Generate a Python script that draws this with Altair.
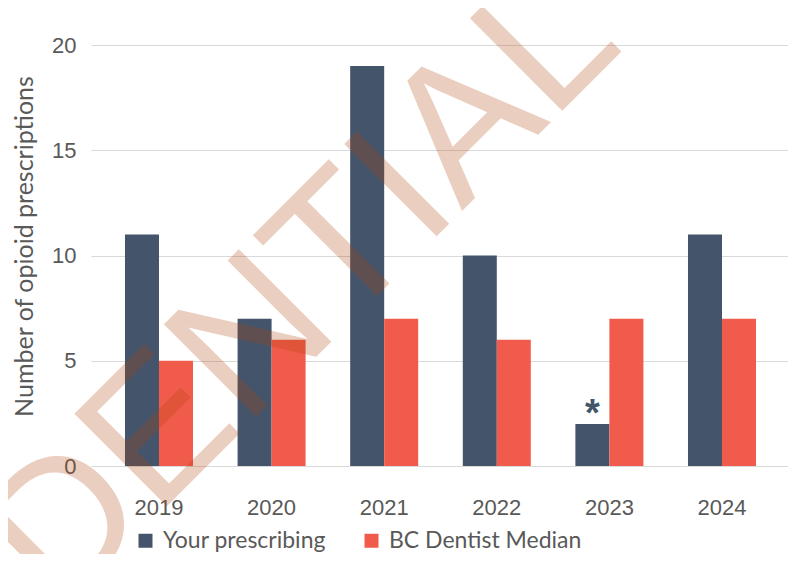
import altair as alt
import pandas as pd

# ---- data ----
years = ["2019", "2020", "2021", "2022", "2023", "2024"]
your_prescribing = [11, 7, 19, 10, 2, 11]
bc_dentist_median = [5, 6, 7, 6, 7, 7]
series_names = ["Your prescribing", "BC Dentist Median"]
series_colors = ["#44546A", "#F15B4B"]
y_ticks = [0, 5, 10, 15, 20]
note_year = "2023"
note_text = "*"
watermark_text = "CONFIDENTIAL"

rows = []
for yr, a, b in zip(years, your_prescribing, bc_dentist_median):
    rows.append({"year": yr, "series": series_names[0], "value": a})
    rows.append({"year": yr, "series": series_names[1], "value": b})
df = pd.DataFrame(rows)

note_df = pd.DataFrame([{
    "year": note_year,
    "series": series_names[0],
    "value": your_prescribing[years.index(note_year)],
    "label": note_text,
}])
wm_df = pd.DataFrame([{"label": watermark_text}])

GRAY = "#595959"

x_enc = alt.X(
    "year:N", sort=years,
    scale=alt.Scale(paddingInner=0.396, paddingOuter=0.293, align=0.515),
    axis=alt.Axis(title=None, labelAngle=0, ticks=False, domain=False, grid=False,
                  labelPadding=31, labelFont="Liberation Sans", labelFontSize=22,
                  labelColor=GRAY),
)
xo_enc = alt.XOffset("series:N", sort=series_names,
                     scale=alt.Scale(paddingInner=0, paddingOuter=0))
y_enc = alt.Y(
    "value:Q",
    scale=alt.Scale(domain=[0, 20], nice=False),
    axis=alt.Axis(values=y_ticks, title="Number of opioid prescriptions",
                  ticks=False, domain=False, grid=True, gridColor="#D9D9D9", gridWidth=1,
                  labelFont="Liberation Sans", labelFontSize=22, labelColor=GRAY,
                  labelPadding=15,
                  titleFont="Lato", titleFontSize=25, titleFontWeight="normal",
                  titleColor=GRAY, titleAngle=270, titleX=-67, titleY=201,
                  titleAlign="center", titleBaseline="middle"),
)

bars = alt.Chart(df).mark_bar().encode(
    x=x_enc,
    xOffset=xo_enc,
    y=y_enc,
    color=alt.Color(
        "series:N",
        scale=alt.Scale(domain=series_names, range=series_colors),
        legend=alt.Legend(orient="none", legendX=43, legendY=484, direction="horizontal",
                          title=None, symbolType="square", symbolSize=196,
                          symbolStrokeWidth=0, labelFont="Lato", labelFontSize=23,
                          labelLimit=0, labelColor=GRAY, columnPadding=34,
                          labelOffset=6, padding=0),
    ),
)

note = alt.Chart(note_df).mark_text(
    font="Liberation Sans", fontWeight="bold", fontSize=38, color="#44546A",
    baseline="alphabetic", align="center", dy=2,
).encode(
    x=alt.X("year:N", sort=years),
    xOffset=alt.XOffset("series:N", sort=series_names),
    y=alt.Y("value:Q"),
    text="label:N",
)

watermark = alt.Chart(wm_df).mark_text(
    font="Liberation Sans", fontSize=190, angle=315, align="right",
    baseline="alphabetic", color="#AF430B", opacity=0.25,
).encode(
    x=alt.value(535),
    y=alt.value(2),
    text="label:N",
)

# total svg: 83 + 697 = 780 wide, 37 + 421 + 88 = 546 tall (fits the page with its 8px margins)
chart = alt.layer(bars, note, watermark).properties(
    width=697, height=421,
    autosize=alt.AutoSizeParams(type="none"),
    padding={"left": 83, "top": 37, "right": 0, "bottom": 88},
).configure_view(stroke=None)

chart.save("out.html", embed_options={"renderer": "svg", "actions": False})
